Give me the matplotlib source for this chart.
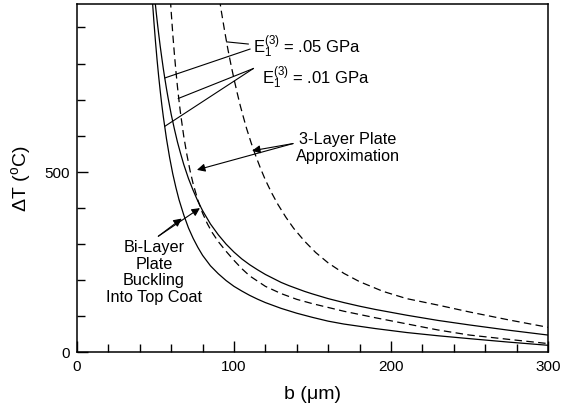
import matplotlib
matplotlib.use('Agg')
import matplotlib.pyplot as plt
from matplotlib.ticker import MultipleLocator

plt.rcParams['font.family'] = ['Liberation Sans', 'DejaVu Sans']
plt.rcParams['mathtext.fontset'] = 'custom'
plt.rcParams['mathtext.rm'] = 'Liberation Sans'
plt.rcParams['mathtext.it'] = 'Liberation Sans:italic'

# bi-layer plate, E1(3) = .01 GPa (lower solid)
b_bi_01 = [48.0, 49, 50, 51, 52, 53, 54, 55, 57, 59, 61, 63, 65, 68, 71, 74, 77, 80,
           85, 90, 95, 100, 105, 110, 115, 120, 130, 140, 150, 160, 170, 190, 210, 230, 250, 275, 300]
dT_bi_01 = [976, 915, 860, 810, 765, 724, 686, 652, 591, 539, 494, 456, 422, 380, 344, 315, 290, 268,
            239, 217, 198, 182, 169, 157, 146.5, 137, 121, 107.5, 96, 85.5, 77.5, 65, 54, 45, 37, 27.4, 18.6]

# bi-layer plate, E1(3) = .05 GPa (upper solid)
b_bi_05 = [49.8, 50.5, 51.4, 52, 53, 54, 55, 56, 57, 58, 60, 62, 64, 66, 68, 71, 74, 77, 80,
           85, 90, 95, 100, 105, 110, 115, 120, 125, 130, 135, 140, 145, 150, 160, 170, 180,
           190, 210, 230, 250, 275, 300]
dT_bi_05 = [969, 940, 905, 883, 848, 816, 785, 757, 730, 705, 659, 619, 582, 550, 520, 481, 448, 418, 392,
            355, 325, 299, 277, 258, 242, 228, 215, 204, 193, 184, 176, 168, 161, 148, 137, 127,
            118, 102, 87.5, 75, 60.4, 47]

# 3-layer approximation, E1(3) = .01 GPa (inner dashed)
b_3l_01 = [59.5, 60, 61, 62, 63, 64, 65, 66, 68, 70, 72, 74, 77, 80, 83, 86, 90, 95,
           100, 105, 110, 120, 130, 140, 150, 170, 190, 210, 230, 250, 275, 300]
dT_3l_01 = [976, 943, 882, 828, 779, 735, 696, 660, 598, 547, 503, 466, 421, 385, 356, 332, 306, 279,
            254, 231, 211, 182, 162, 146, 134, 113, 95, 78, 61, 47, 35, 23.4]

# 3-layer approximation, E1(3) = .05 GPa (outer dashed)
b_3l_05 = [90.5, 92, 94, 96, 98, 100, 102, 104, 106, 108, 111, 114, 117, 120, 124, 128, 133, 138,
           145, 152, 160, 170, 180, 195, 210, 230, 250, 275, 300]
dT_3l_05 = [986, 943, 891, 842, 798, 757, 719, 683, 651, 620, 579, 542, 508, 477, 441, 409, 374, 343,
            307, 276, 247, 218, 195, 168, 148, 130, 111, 89, 68.5]

fig = plt.figure(figsize=(5.64, 4.10), dpi=100)
ax = fig.add_axes([77/564, 1-353/410, (548-77)/564, (353-5)/410])

lw = 0.9
ax.plot(b_bi_01, dT_bi_01, color='black', lw=lw)
ax.plot(b_bi_05, dT_bi_05, color='black', lw=lw)
ax.plot(b_3l_01, dT_3l_01, color='black', lw=lw, dashes=(6, 3.5))
ax.plot(b_3l_05, dT_3l_05, color='black', lw=lw, dashes=(6, 3.5))

ax.set_xlim(0, 300)
ax.set_ylim(0, 965)
ax.xaxis.set_major_locator(MultipleLocator(100))
ax.xaxis.set_minor_locator(MultipleLocator(20))
ax.yaxis.set_major_locator(MultipleLocator(500))
ax.yaxis.set_minor_locator(MultipleLocator(100))
ax.tick_params(which='both', direction='in', top=False, right=False,
               labelsize=11, width=1.0, pad=5)
ax.tick_params(which='major', length=8)
ax.tick_params(which='minor', length=5.5)
for s in ax.spines.values():
    s.set_linewidth(1.1)

ax.set_xlabel('b (\u03bcm)', fontsize=14, labelpad=9)
ax.set_ylabel(r'$\Delta$T ($^{\mathrm{o}}$C)', fontsize=14, labelpad=8)

# E1(3) labels and leader lines
ax.text(111.9, 832, r'$\mathrm{E}_1^{(3)}$ = .05 GPa', fontsize=12, va='baseline', ha='left')
ax.text(117.6, 747, r'$\mathrm{E}_1^{(3)}$ = .01 GPa', fontsize=12, va='baseline', ha='left')
ax.plot([95.3, 109.1], [860, 854], color='black', lw=0.8)
ax.plot([110.2, 56.0], [840, 760], color='black', lw=0.8)
ax.plot([112.3, 64.5], [786, 703], color='black', lw=0.8)
ax.plot([112.3, 56.0], [786, 626], color='black', lw=0.8)

# 3-layer plate approximation
ax.text(172.3, 568, '3-Layer Plate\nApproximation', fontsize=11.7, ha='center', va='center',
        multialignment='center', linespacing=1.12)
arr = dict(arrowstyle='-|>', color='black', lw=0.8, mutation_scale=12, shrinkA=0, shrinkB=0)
ax.annotate('', xy=(76.4, 505), xytext=(137.6, 578), arrowprops=arr)
ax.annotate('', xy=(111.5, 558), xytext=(137.6, 578), arrowprops=arr)

# bi-layer plate buckling
ax.text(49, 223, 'Bi-Layer\nPlate\nBuckling\nInto Top Coat', fontsize=11.7, ha='center', va='center',
        multialignment='center', linespacing=1.12)
ax.annotate('', xy=(78.3, 399), xytext=(51.8, 321), arrowprops=arr)
ax.annotate('', xy=(66.7, 370), xytext=(51.8, 321), arrowprops=arr)

fig.savefig('out.png', dpi=100)
